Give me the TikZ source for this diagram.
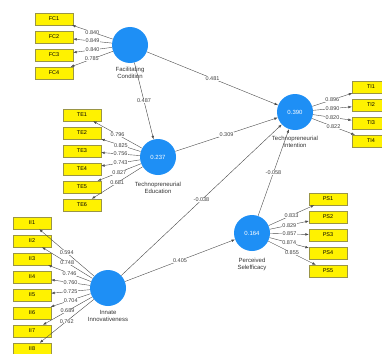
\documentclass[tikz,border=0pt]{standalone}
\usepackage{fontspec}
\setmainfont{Liberation Sans}
\usetikzlibrary{arrows.meta,positioning}
\definecolor{lvblue}{HTML}{1E8FF5}

\begin{document}
\begin{tikzpicture}
  [x=1pt,y=-1pt,>={Latex[length=3.5pt,width=2.6pt]},
   lv/.style={circle,fill=lvblue,minimum size=36pt,inner sep=0pt,text=white,font=\fontsize{6}{7}\selectfont},
   ind/.style={rectangle,fill=yellow,draw=yellow!55!black,line width=0.3pt,minimum width=38pt,minimum height=12pt,inner sep=0pt,font=\fontsize{5.5}{6}\selectfont},
   lvname/.style={font=\fontsize{6}{7}\selectfont,align=center,text=black!80,inner sep=1pt},
   ld/.style={font=\fontsize{5.5}{6}\selectfont,fill=white,inner sep=0.3pt,text=black!75},
   path/.style={->,draw=black!70,line width=0.4pt}]
  \clip (0,0) rectangle (382,353);

  \node[lv] (fc) at (130,45) {};
  \node[lv] (te) at (158,157) {0.237};
  \node[lv] (ii) at (108,288) {};
  \node[lv] (ps) at (252,233) {0.164};
  \node[lv] (ti) at (295,112) {0.390};

  \node[lvname,below=3pt of fc] (fcname) {Facilitating\\Condition};
  \node[lvname,below=6pt of te] (tename) {Technopreneurial\\Education};
  \node[lvname,below=3pt of ii] (iiname) {Innate\\Innovativeness};
  \node[lvname,below=6pt of ps] (psname) {Perceived\\Selefficacy};
  \node[lvname,below=5pt of ti] (tiname) {Technopreneurial\\Intention};

  \node[ind] (fc1) at (54,19) {FC1};
  \node[ind] (fc2) at (54,37) {FC2};
  \node[ind] (fc3) at (54,55) {FC3};
  \node[ind] (fc4) at (54,73) {FC4};

  \node[ind] (te1) at (82,115) {TE1};
  \node[ind] (te2) at (82,133) {TE2};
  \node[ind] (te3) at (82,151) {TE3};
  \node[ind] (te4) at (82,169) {TE4};
  \node[ind] (te5) at (82,187) {TE5};
  \node[ind] (te6) at (82,205) {TE6};

  \node[ind] (ii1) at (32,223) {II1};
  \node[ind] (ii2) at (32,241) {II2};
  \node[ind] (ii3) at (32,259) {II3};
  \node[ind] (ii4) at (32,277) {II4};
  \node[ind] (ii5) at (32,295) {II5};
  \node[ind] (ii6) at (32,313) {II6};
  \node[ind] (ii7) at (32,331) {II7};
  \node[ind] (ii8) at (32,349) {II8};

  \node[ind] (ti1) at (371,87) {TI1};
  \node[ind] (ti2) at (371,105) {TI2};
  \node[ind] (ti3) at (371,123) {TI3};
  \node[ind] (ti4) at (371,141) {TI4};

  \node[ind] (ps1) at (328,199) {PS1};
  \node[ind] (ps2) at (328,217) {PS2};
  \node[ind] (ps3) at (328,235) {PS3};
  \node[ind] (ps4) at (328,253) {PS4};
  \node[ind] (ps5) at (328,271) {PS5};

  \draw[path] (fc) -- node[ld] {0.840} (fc1);
  \draw[path] (fc) -- node[ld] {0.849} (fc2);
  \draw[path] (fc) -- node[ld] {0.840} (fc3);
  \draw[path] (fc) -- node[ld] {0.785} (fc4);

  \draw[path] (te) -- node[ld] {0.796} (te1);
  \draw[path] (te) -- node[ld] {0.825} (te2);
  \draw[path] (te) -- node[ld] {0.756} (te3);
  \draw[path] (te) -- node[ld] {0.743} (te4);
  \draw[path] (te) -- node[ld] {0.827} (te5);
  \draw[path] (te) -- node[ld] {0.681} (te6);

  \draw[path] (ii) -- node[ld] {0.594} (ii1);
  \draw[path] (ii) -- node[ld] {0.748} (ii2);
  \draw[path] (ii) -- node[ld] {0.746} (ii3);
  \draw[path] (ii) -- node[ld] {0.760} (ii4);
  \draw[path] (ii) -- node[ld] {0.725} (ii5);
  \draw[path] (ii) -- node[ld] {0.704} (ii6);
  \draw[path] (ii) -- node[ld] {0.689} (ii7);
  \draw[path] (ii) -- node[ld] {0.762} (ii8);

  \draw[path] (ti) -- node[ld] {0.896} (ti1);
  \draw[path] (ti) -- node[ld] {0.890} (ti2);
  \draw[path] (ti) -- node[ld] {0.820} (ti3);
  \draw[path] (ti) -- node[ld] {0.822} (ti4);

  \draw[path] (ps) -- node[ld] {0.833} (ps1);
  \draw[path] (ps) -- node[ld] {0.829} (ps2);
  \draw[path] (ps) -- node[ld] {0.857} (ps3);
  \draw[path] (ps) -- node[ld] {0.874} (ps4);
  \draw[path] (ps) -- node[ld] {0.855} (ps5);

  \draw[path] (fc) -- node[ld] {0.481} (ti);
  \draw[path] (fc) -- node[ld] {0.487} (te);
  \draw[path] (te) -- node[ld] {0.309} (ti);
  \draw[path] (ii) -- node[ld] {-0.038} (ti);
  \draw[path] (ii) -- node[ld] {0.405} (ps);
  \draw[path] (ps) -- node[ld] {-0.058} (ti);
\end{tikzpicture}
\end{document}
